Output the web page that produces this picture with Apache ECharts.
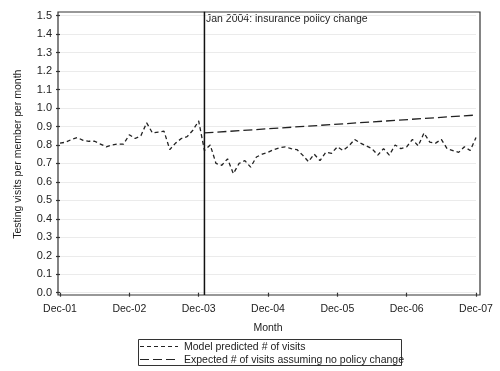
<!DOCTYPE html>
<html><head><meta charset="utf-8">
<script src="https://cdn.jsdelivr.net/npm/echarts@6/dist/echarts.min.js"></script>
<style>html,body{margin:0;padding:0;background:#fff}#c{width:500px;height:371px}</style>
</head><body><div id="c"></div>
<script>
// month index: 0 = Dec 2001 ... 72 = Dec 2007
var xTickLabels = ['Dec-01','Dec-02','Dec-03','Dec-04','Dec-05','Dec-06','Dec-07'];
var predicted = [0.81,0.815,0.83,0.84,0.825,0.82,0.82,0.805,0.79,0.80,0.805,0.805,
  0.855,0.835,0.85,0.92,0.865,0.87,0.875,0.775,0.81,0.835,0.845,0.88,
  0.93,0.77,0.80,0.70,0.69,0.725,0.645,0.70,0.715,0.68,0.735,0.75,
  0.76,0.775,0.785,0.79,0.78,0.775,0.745,0.71,0.75,0.715,0.76,0.755,
  0.79,0.77,0.795,0.83,0.81,0.795,0.78,0.745,0.78,0.745,0.80,0.78,
  0.79,0.83,0.795,0.865,0.815,0.81,0.83,0.78,0.77,0.76,0.79,0.77,0.84];
var expectedMonths = [25, 72];
var expectedValues = [0.865, 0.962];
var policyMonth = 25;
var policyLineExtent = [-0.013, 1.522];
var policyLabel = 'Jan 2004: insurance policy change';
var legendNames = ['Model predicted # of visits','Expected # of visits assuming no policy change'];

var predData = predicted.map(function(v,i){return [i,v];});
var expData = expectedMonths.map(function(m,i){return [m,expectedValues[i]];});
var policyData = policyLineExtent.map(function(v){return [policyMonth, v];});
var FONT = 'Liberation Sans, Arial, sans-serif';
var FS = 10.5;
var ink = '#222';

var chart = echarts.init(document.getElementById('c'), null, {renderer:'canvas'});
chart.setOption({
  animation:false,
  backgroundColor:'#fff',
  grid:[
    {left:58, top:12, right:20, bottom:76, show:true, borderColor:'#333', borderWidth:1.2, backgroundColor:'transparent'},
    {left:60, top:15.7, right:24, bottom:78.3}
  ],
  xAxis:[
    {gridIndex:0, type:'value', min:0, max:1, show:false},
    {gridIndex:1, type:'value', min:0, max:72, interval:12, offset:2.3,
     name:'Month', nameLocation:'middle', nameGap:28,
     nameTextStyle:{fontFamily:FONT, fontSize:FS, color:ink},
     axisLine:{show:false},
     axisTick:{show:true, length:4, lineStyle:{color:'#333', width:1.2}},
     axisLabel:{fontFamily:FONT, fontSize:FS, color:ink, margin:9,
       formatter:function(v){return xTickLabels[Math.round(v/12)] || '';}},
     splitLine:{show:false}}
  ],
  yAxis:[
    {gridIndex:0, type:'value', min:0, max:1, show:false},
    {gridIndex:1, type:'value', min:0, max:1.5, interval:0.1, offset:2,
     name:'Testing visits per member per month', nameLocation:'middle', nameGap:34,
     nameTextStyle:{fontFamily:FONT, fontSize:FS, color:ink},
     axisLine:{show:false},
     axisTick:{show:true, length:4, lineStyle:{color:'#333', width:1.2}},
     axisLabel:{fontFamily:FONT, fontSize:FS+0.5, color:ink, margin:6,
       formatter:function(v){return v.toFixed(1);}},
     splitLine:{show:true, lineStyle:{color:'#ebebeb', width:1}}}
  ],
  series:[
    {type:'line', name:legendNames[0], xAxisIndex:1, yAxisIndex:1, data:predData,
     symbol:'none', lineStyle:{color:ink, width:1.3, type:[4,3]}},
    {type:'line', name:legendNames[1], xAxisIndex:1, yAxisIndex:1, data:expData,
     symbol:'none', lineStyle:{color:ink, width:1.3, type:[9,4]}},
    {type:'line', name:'policy', xAxisIndex:1, yAxisIndex:1, data:policyData, clip:false,
     symbol:'none', silent:true, lineStyle:{color:'#111', width:1.5, type:'solid'}}
  ],
  graphic:[
    {type:'text', left:206, top:13.5, style:{text:policyLabel, font:FS+'px '+FONT, fill:ink}},
    {type:'rect', shape:{x:138.5, y:339.5, width:263, height:26}, style:{fill:'none', stroke:'#333', lineWidth:1}},
    {type:'line', shape:{x1:140, y1:346.5, x2:178, y2:346.5}, style:{stroke:ink, lineWidth:1.2, lineDash:[4,3]}},
    {type:'line', shape:{x1:140, y1:359.5, x2:178, y2:359.5}, style:{stroke:ink, lineWidth:1.2, lineDash:[9,4]}},
    {type:'text', left:184, top:341.5, style:{text:legendNames[0], font:FS+'px '+FONT, fill:ink}},
    {type:'text', left:184, top:354.5, style:{text:legendNames[1], font:FS+'px '+FONT, fill:ink}}
  ]
});
</script></body></html>
